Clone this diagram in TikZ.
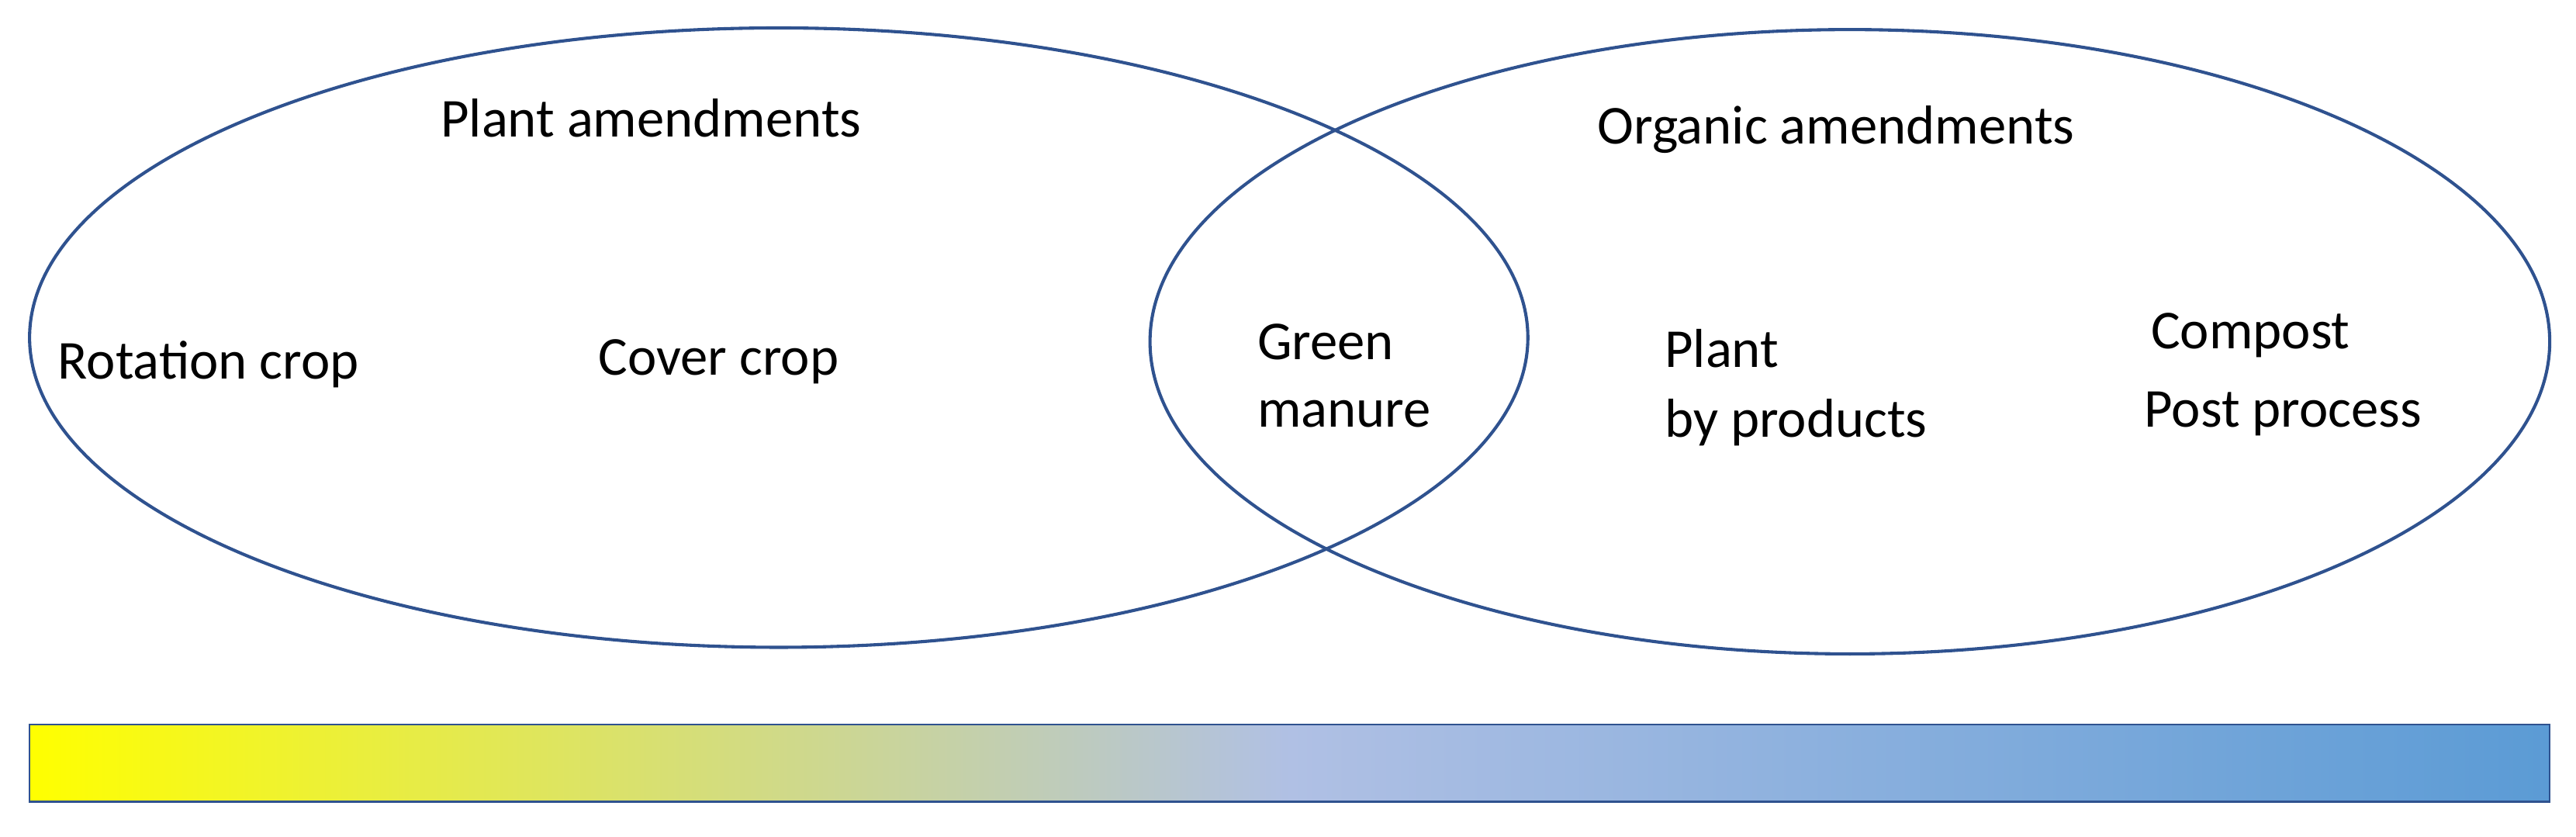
\documentclass[tikz,border=0pt]{standalone}
\usepackage{fontspec}
\setmainfont{Carlito}
\begin{document}
\definecolor{edge}{RGB}{47,82,143}
\definecolor{midc}{RGB}{176,192,228}
\definecolor{endc}{RGB}{91,155,213}
\begin{tikzpicture}[x=0.02cm,y=-0.02cm,
  ring/.style={draw=edge,line width=1.1pt},
  lbl/.style={font=\fontsize{19}{23}\selectfont,inner sep=0pt,anchor=west}]
\useasboundingbox (0,0) rectangle (1568,509);
\draw[ring] (474,205.5) ellipse [x radius=456,y radius=188.5];
\draw[ring] (1126,208) ellipse [x radius=426,y radius=190];
\shade[left color=yellow,right color=endc,middle color=midc] (18,441) rectangle (1552,488);
\draw[edge,line width=0.6pt] (18,441) rectangle (1552,488);
\node[lbl] (pa) at (268,72) {Plant amendments};
\node[lbl] (oa) at (972,79) {Organic amendments};
\node[lbl] (rc) at (35,222) {Rotation crop};
\node[lbl] (cc) at (364,220) {Cover crop};
\node[lbl] (g1) at (765,208) {Green};
\node[lbl] (g2) at (765,252) {manure};
\node[lbl] (p1) at (1013,212) {Plant};
\node[lbl] (p2) at (1013,257) {by products};
\node[lbl] (c1) at (1309,204) {Compost};
\node[lbl] (c2) at (1305,252) {Post process};
\end{tikzpicture}
\end{document}
